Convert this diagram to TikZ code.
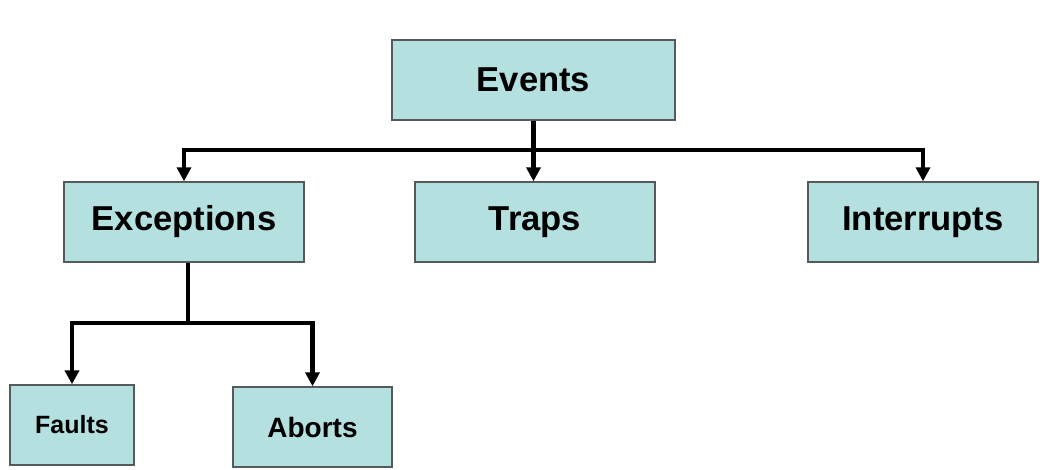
\documentclass[tikz,border=0pt]{standalone}
\usepackage{fontspec}
\setmainfont{Liberation Sans}
\usetikzlibrary{arrows.meta}
\definecolor{boxfill}{RGB}{180,224,224}
\definecolor{boxline}{RGB}{85,90,90}
\begin{document}
\begin{tikzpicture}[x=0.5pt,y=-0.5pt,
    eventbox/.style ={rectangle, draw=boxline, fill=boxfill, line width=0.7pt, inner sep=0pt,
      minimum width=120pt, minimum height=40pt, font=\bfseries\fontsize{17.3}{20}\selectfont},
    link/.style ={line width=2.2pt, -{Triangle[length=7pt,width=7pt]}}]
   \fill[white] (0,0) rectangle (1044,470);
   \useasboundingbox (0,0) rectangle (1044,470);
   \node[eventbox, minimum width=141.5pt] (events) at (533.5,80) {Events};
   \node[eventbox] (exceptions) at (184,222) {Exceptions};
   \node[eventbox] (traps) at (535,222) {Traps};
   \node[eventbox, minimum width=115pt] (interrupts) at (923,222) {Interrupts};
   \node[eventbox, minimum width=62pt, font=\bfseries\fontsize{12.5}{15}\selectfont] (faults) at (72,425) {Faults};
   \node[eventbox, minimum width=79.5pt, font=\bfseries\fontsize{14}{17}\selectfont] (aborts) at (312.5,427) {Aborts};
   \coordinate (split) at (533.5,150);
   \coordinate (split2) at (188,323);
   \draw[line width=2.2pt] (events) -- (split);
   \draw[link] (split) -| (exceptions);
   \draw[link] (split) -- (split |- traps.north);
   \draw[link] (split) -| (interrupts);
   \draw[line width=2.2pt] (split2 |- exceptions.south) -- (split2);
   \draw[link] (split2) -| (faults);
   \draw[link] (split2) -| (aborts);
\end{tikzpicture}
\end{document}
